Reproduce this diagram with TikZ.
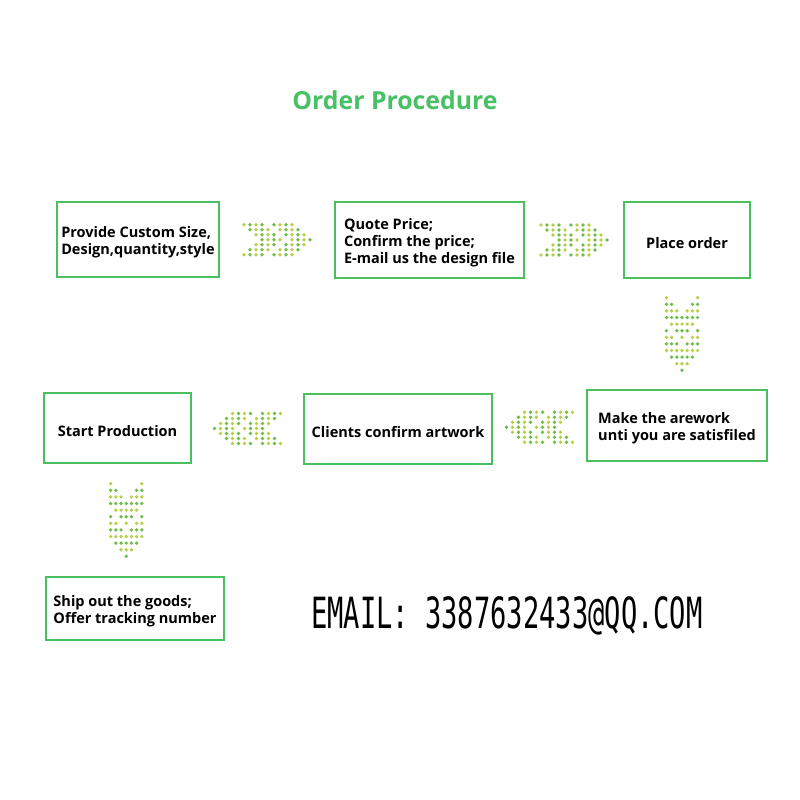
\documentclass[tikz,border=0pt]{standalone}
\usepackage{fontspec}
\setmainfont{Open Sans}
\newfontfamily\emailfont[FakeStretch=0.63]{DejaVu Sans Mono}
\usetikzlibrary{calc}
\definecolor{boxgreen}{RGB}{76,190,98}
\definecolor{titlegreen}{RGB}{72,192,100}
\definecolor{dotA}{RGB}{112,188,72}
\definecolor{dotB}{RGB}{184,208,72}
\tikzset{
  stepbox/.style={draw=boxgreen, line width=2pt, fill=white, inner sep=0pt},
  steptext/.style={align=left, font=\fontsize{14.5}{17}\selectfont\bfseries, inner sep=0pt, yshift=-3pt},
  pics/dotarrow/.style 2 args={code={
    \foreach \r in {-3,...,3}{
      \foreach \k in {0,1}{
        \foreach \i in {0,...,3}{
          \pgfmathsetmacro\jj{5*\k+3-abs(\r)+\i}
          \pgfmathtruncatemacro\dpar{mod(\i+\r+\k+10,2)}
          \ifnum\dpar=0 \def\dc{dotA}\else\def\dc{dotB}\fi
          \fill[\dc] ({(\jj-5.5)*#1},{\r*#2}) circle (1.85);
        }
      }
    }
  }}
}
\begin{document}
\begin{tikzpicture}[x=1pt,y=-1pt]
  \useasboundingbox (0,0) rectangle (800,800);
  \fill[white] (0,0) rectangle (800,800);

  \node[font=\fontsize{24.8}{30}\selectfont\bfseries, text=titlegreen] (title) at (395,100) {Order Procedure};

  \node[stepbox, minimum width=162pt, minimum height=75pt] (b1) at (138,239.5) {};
  \node[stepbox, minimum width=189pt, minimum height=76pt] (b2) at (429.5,240) {};
  \node[stepbox, minimum width=126pt, minimum height=76pt] (b3) at (687,240) {};
  \node[stepbox, minimum width=180pt, minimum height=71pt] (b4) at (677,425.5) {};
  \node[stepbox, minimum width=188pt, minimum height=70pt] (b5) at (398,429) {};
  \node[stepbox, minimum width=147pt, minimum height=70pt] (b6) at (117.5,428) {};
  \node[stepbox, minimum width=178pt, minimum height=63pt] (b7) at (135,608.5) {};

  \node[steptext] (t1) at (b1.center) {Provide Custom Size,\\Design,quantity,style};
  \node[steptext] (t2) at (b2.center) {Quote Price;\\Confirm the price;\\E-mail us the design file};
  \node[steptext] (t3) at (b3.center) {Place order};
  \node[steptext] (t4) at (b4.center) {Make the arework\\unti you are satisfiled};
  \node[steptext] (t5) at (b5.center) {Clients confirm artwork};
  \node[steptext] (t6) at (b6.center) {Start Production};
  \node[steptext] (t7) at (b7.center) {Ship out the goods;\\Offer tracking number};

  \pic at ($(b1.east)!0.5!(b2.west)$) {dotarrow={6}{5}};
  \pic at ($(b2.east)!0.5!(b3.west)$) {dotarrow={6}{5}};
  \pic[rotate=-90] at ($(b3.south)!0.5!(b4.north)$) {dotarrow={6.6}{5.2}};
  \pic[rotate=180] at ($(b4.west)!0.5!(b5.east)$) {dotarrow={6}{5}};
  \pic[rotate=180] at ($(b5.west)!0.5!(b6.east)$) {dotarrow={6}{5}};
  \pic[rotate=-90] at ($(b6.south)!0.5!(b7.north)$) {dotarrow={6.6}{5.2}};

  \node[font=\emailfont\fontsize{43}{50}\selectfont, anchor=base west, inner sep=0pt] (email) at (311,628) {EMAIL: 3387632433@QQ.COM};
\end{tikzpicture}
\end{document}
